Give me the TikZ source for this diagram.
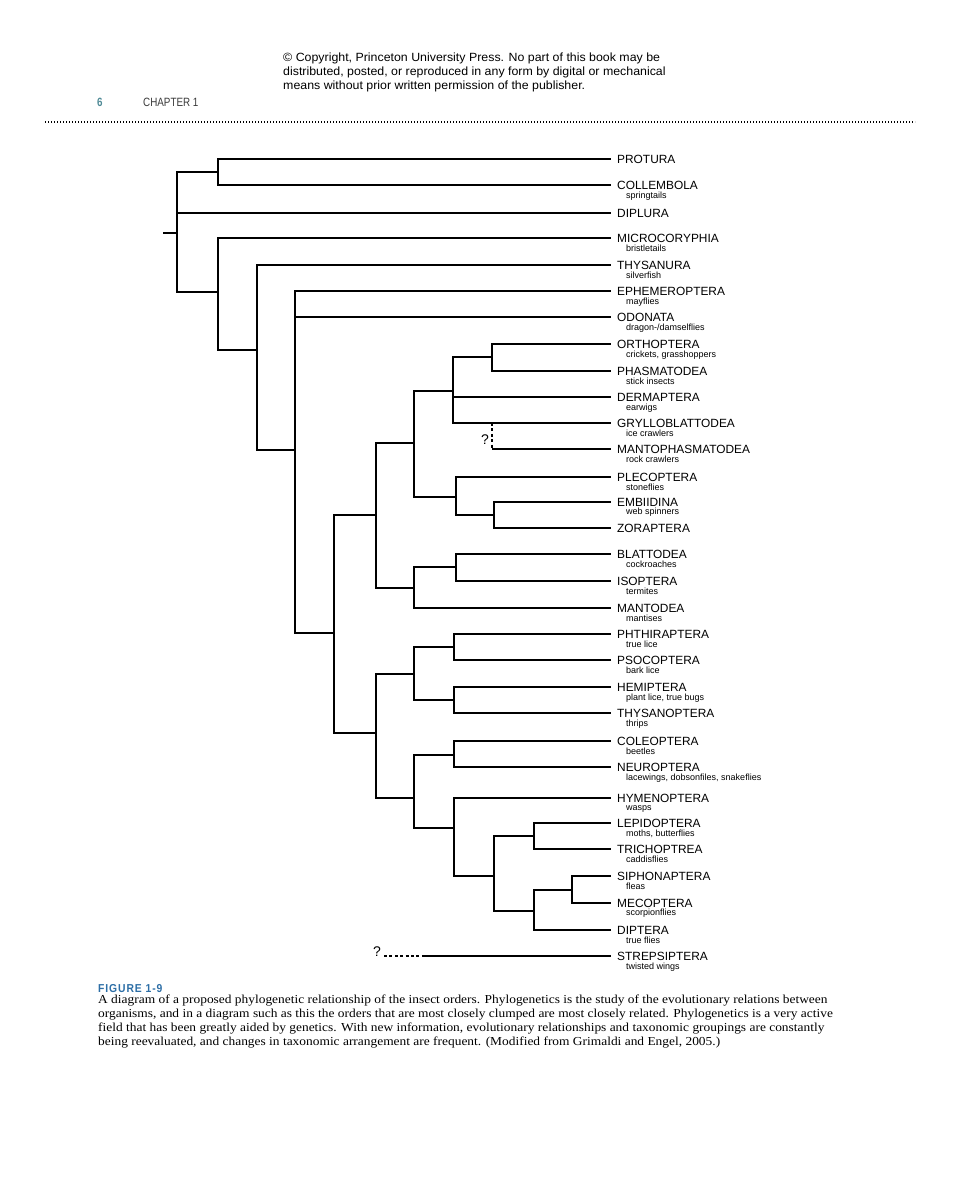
\documentclass[tikz,border=0pt]{standalone}
\usepackage{fontspec}
\setmainfont{Liberation Serif}
\setsansfont{Liberation Sans}
\newfontfamily\narrowsans[FakeStretch=0.82]{Liberation Sans}
\newfontfamily\spacedsans[FakeStretch=0.9,LetterSpace=8]{Liberation Sans}
\newfontfamily\widesans[FakeStretch=1.04]{Liberation Sans}
\newfontfamily\captionserif[FakeStretch=1.1]{Liberation Serif}
\usepackage{tikz}
\usetikzlibrary{positioning}
\usepackage{xcolor}
\definecolor{pageteal}{HTML}{4F8A96}
\definecolor{figblue}{HTML}{2C6EA6}
\definecolor{headgray}{HTML}{3A3A3A}

\begin{document}
\begin{tikzpicture}[x=1pt,y=-1pt,
  branch/.style={line width=1.8pt},
  unsure/.style={line width=1.4pt, dash pattern=on 3pt off 2.4pt},
  taxon/.style={anchor=west, inner xsep=6pt, inner ysep=0pt, text height=8.6pt, text depth=0pt,
    font=\sffamily\fontsize{11.9}{12}\selectfont},
  common/.style={anchor=base west, inner sep=0pt, font=\sffamily\fontsize{9}{9}\selectfont},
  query/.style={inner sep=0pt, font=\sffamily\fontsize{14}{14}\selectfont}]
\useasboundingbox (0,0) rectangle (960,1177);

\node[anchor=north west, align=left, inner sep=0pt, font=\widesans\fontsize{11.9}{14}\selectfont] (copyright) at (283,53)
  {\textcopyright{} Copyright, Princeton University Press. No part of this book may be\\
   distributed, posted, or reproduced in any form by digital or mechanical\\
   means without prior written permission of the publisher.};
\node[anchor=west, inner sep=0pt, text=pageteal, font=\narrowsans\bfseries\fontsize{12}{12}\selectfont] (pageno) at (97,102) {6};
\node[anchor=west, inner sep=0pt, text=headgray, font=\narrowsans\fontsize{12}{12}\selectfont] (chapter) at (143,102) {CHAPTER 1};
\draw[line width=1.3pt, dash pattern=on 1.3pt off 1.7pt] (45,122) -- (915,122);

\node[taxon] (protura) at (611,159) {PROTURA};
\node[taxon] (collembola) at (611,185) {COLLEMBOLA};
\node[taxon] (diplura) at (611,213) {DIPLURA};
\node[taxon] (microcoryphia) at (611,238) {MICROCORYPHIA};
\node[taxon] (thysanura) at (611,265) {THYSANURA};
\node[taxon] (ephemeroptera) at (611,291) {EPHEMEROPTERA};
\node[taxon] (odonata) at (611,317) {ODONATA};
\node[taxon] (orthoptera) at (611,344) {ORTHOPTERA};
\node[taxon] (phasmatodea) at (611,371) {PHASMATODEA};
\node[taxon] (dermaptera) at (611,397) {DERMAPTERA};
\node[taxon] (grylloblattodea) at (611,423) {GRYLLOBLATTODEA};
\node[taxon] (mantophasmatodea) at (611,449) {MANTOPHASMATODEA};
\node[taxon] (plecoptera) at (611,477) {PLECOPTERA};
\node[taxon] (embiidina) at (611,502) {EMBIIDINA};
\node[taxon] (zoraptera) at (611,528) {ZORAPTERA};
\node[taxon] (blattodea) at (611,554) {BLATTODEA};
\node[taxon] (isoptera) at (611,581) {ISOPTERA};
\node[taxon] (mantodea) at (611,608) {MANTODEA};
\node[taxon] (phthiraptera) at (611,634) {PHTHIRAPTERA};
\node[taxon] (psocoptera) at (611,660) {PSOCOPTERA};
\node[taxon] (hemiptera) at (611,687) {HEMIPTERA};
\node[taxon] (thysanoptera) at (611,713) {THYSANOPTERA};
\node[taxon] (coleoptera) at (611,741) {COLEOPTERA};
\node[taxon] (neuroptera) at (611,767) {NEUROPTERA};
\node[taxon] (hymenoptera) at (611,798) {HYMENOPTERA};
\node[taxon] (lepidoptera) at (611,823) {LEPIDOPTERA};
\node[taxon] (trichoptrea) at (611,849) {TRICHOPTREA};
\node[taxon] (siphonaptera) at (611,876) {SIPHONAPTERA};
\node[taxon] (mecoptera) at (611,903) {MECOPTERA};
\node[taxon] (diptera) at (611,930) {DIPTERA};
\node[taxon] (strepsiptera) at (611,956) {STREPSIPTERA};

\node[common] (collembola-c) at ([xshift=15pt,yshift=-13.5pt]collembola.west) {springtails};
\node[common] (microcoryphia-c) at ([xshift=15pt,yshift=-13.5pt]microcoryphia.west) {bristletails};
\node[common] (thysanura-c) at ([xshift=15pt,yshift=-13.5pt]thysanura.west) {silverfish};
\node[common] (ephemeroptera-c) at ([xshift=15pt,yshift=-13.5pt]ephemeroptera.west) {mayflies};
\node[common] (odonata-c) at ([xshift=15pt,yshift=-13.5pt]odonata.west) {dragon-/damselflies};
\node[common] (orthoptera-c) at ([xshift=15pt,yshift=-13.5pt]orthoptera.west) {crickets, grasshoppers};
\node[common] (phasmatodea-c) at ([xshift=15pt,yshift=-13.5pt]phasmatodea.west) {stick insects};
\node[common] (dermaptera-c) at ([xshift=15pt,yshift=-13.5pt]dermaptera.west) {earwigs};
\node[common] (grylloblattodea-c) at ([xshift=15pt,yshift=-13.5pt]grylloblattodea.west) {ice crawlers};
\node[common] (mantophasmatodea-c) at ([xshift=15pt,yshift=-13.5pt]mantophasmatodea.west) {rock crawlers};
\node[common] (plecoptera-c) at ([xshift=15pt,yshift=-13.5pt]plecoptera.west) {stoneflies};
\node[common] (embiidina-c) at ([xshift=15pt,yshift=-12.5pt]embiidina.west) {web spinners};
\node[common] (blattodea-c) at ([xshift=15pt,yshift=-13.5pt]blattodea.west) {cockroaches};
\node[common] (isoptera-c) at ([xshift=15pt,yshift=-13.5pt]isoptera.west) {termites};
\node[common] (mantodea-c) at ([xshift=15pt,yshift=-13.5pt]mantodea.west) {mantises};
\node[common] (phthiraptera-c) at ([xshift=15pt,yshift=-13.5pt]phthiraptera.west) {true lice};
\node[common] (psocoptera-c) at ([xshift=15pt,yshift=-13.5pt]psocoptera.west) {bark lice};
\node[common] (hemiptera-c) at ([xshift=15pt,yshift=-13.5pt]hemiptera.west) {plant lice, true bugs};
\node[common] (thysanoptera-c) at ([xshift=15pt,yshift=-13.5pt]thysanoptera.west) {thrips};
\node[common] (coleoptera-c) at ([xshift=15pt,yshift=-13.5pt]coleoptera.west) {beetles};
\node[common] (neuroptera-c) at ([xshift=15pt,yshift=-13.5pt]neuroptera.west) {lacewings, dobsonfiles, snakeflies};
\node[common] (hymenoptera-c) at ([xshift=15pt,yshift=-12.8pt]hymenoptera.west) {wasps};
\node[common] (lepidoptera-c) at ([xshift=15pt,yshift=-13.5pt]lepidoptera.west) {moths, butterflies};
\node[common] (trichoptrea-c) at ([xshift=15pt,yshift=-13.5pt]trichoptrea.west) {caddisflies};
\node[common] (siphonaptera-c) at ([xshift=15pt,yshift=-13.5pt]siphonaptera.west) {fleas};
\node[common] (mecoptera-c) at ([xshift=15pt,yshift=-12.5pt]mecoptera.west) {scorpionflies};
\node[common] (diptera-c) at ([xshift=15pt,yshift=-13.5pt]diptera.west) {true flies};
\node[common] (strepsiptera-c) at ([xshift=15pt,yshift=-13.5pt]strepsiptera.west) {twisted wings};

\coordinate (stub) at (163,233);
\coordinate (root) at (177,233);
\coordinate (ellipura) at (218,172);
\coordinate (insecta) at (218,292);
\coordinate (dicondylia) at (257,350);
\coordinate (pterygota) at (295,450);
\coordinate (neoptera) at (334,633);
\coordinate (poly) at (376,515);
\coordinate (poly-a) at (414,443);
\coordinate (poly-b) at (453,391);
\coordinate (poly-c) at (492,357);
\coordinate (poly-d) at (456,497);
\coordinate (poly-e) at (494,515);
\coordinate (dicty) at (414,588);
\coordinate (dicty-a) at (456,567);
\coordinate (eume) at (376,733);
\coordinate (para) at (414,674);
\coordinate (para-a) at (454,647);
\coordinate (para-b) at (454,700);
\coordinate (holo) at (414,798);
\coordinate (holo-a) at (454,755);
\coordinate (holo-b) at (454,828);
\coordinate (holo-c) at (494,876);
\coordinate (holo-d) at (534,836);
\coordinate (holo-e) at (534,911);
\coordinate (holo-f) at (572,890);
\coordinate (gryllo-q) at (492,423);
\coordinate (strep-q) at (384,956);
\coordinate (strep-s) at (422,956);

\draw[branch] (stub) -- (root);
\draw[branch] (root) |- (ellipura) (root) |- (diplura) (root) |- (insecta);
\draw[branch] (ellipura) |- (protura) (ellipura) |- (collembola);
\draw[branch] (insecta) |- (microcoryphia) (insecta) |- (dicondylia);
\draw[branch] (dicondylia) |- (thysanura) (dicondylia) |- (pterygota);
\draw[branch] (pterygota) |- (ephemeroptera) (pterygota) |- (odonata) (pterygota) |- (neoptera);
\draw[branch] (neoptera) |- (poly) (neoptera) |- (eume);
\draw[branch] (poly) |- (poly-a) (poly) |- (dicty);
\draw[branch] (poly-a) |- (poly-b) (poly-a) |- (poly-d);
\draw[branch] (poly-b) |- (poly-c) (poly-b) |- (dermaptera) (poly-b) |- (grylloblattodea);
\draw[branch] (poly-c) |- (orthoptera) (poly-c) |- (phasmatodea);
\draw[unsure] (gryllo-q) -- (gryllo-q |- mantophasmatodea);
\draw[branch] (gryllo-q |- mantophasmatodea) -- (mantophasmatodea);
\draw[branch] (poly-d) |- (plecoptera) (poly-d) |- (poly-e);
\draw[branch] (poly-e) |- (embiidina) (poly-e) |- (zoraptera);
\draw[branch] (dicty) |- (dicty-a) (dicty) |- (mantodea);
\draw[branch] (dicty-a) |- (blattodea) (dicty-a) |- (isoptera);
\draw[branch] (eume) |- (para) (eume) |- (holo);
\draw[branch] (para) |- (para-a) (para) |- (para-b);
\draw[branch] (para-a) |- (phthiraptera) (para-a) |- (psocoptera);
\draw[branch] (para-b) |- (hemiptera) (para-b) |- (thysanoptera);
\draw[branch] (holo) |- (holo-a) (holo) |- (holo-b);
\draw[branch] (holo-a) |- (coleoptera) (holo-a) |- (neuroptera);
\draw[branch] (holo-b) |- (hymenoptera) (holo-b) |- (holo-c);
\draw[branch] (holo-c) |- (holo-d) (holo-c) |- (holo-e);
\draw[branch] (holo-d) |- (lepidoptera) (holo-d) |- (trichoptrea);
\draw[branch] (holo-e) |- (holo-f) (holo-e) |- (diptera);
\draw[branch] (holo-f) |- (siphonaptera) (holo-f) |- (mecoptera);
\draw[unsure] (strep-q) -- (strep-s);
\draw[branch] (strep-s) -- (strepsiptera);

\node[query] (gryllo-mark) at (485,440) {?};
\node[query] (strep-mark) at (377,952) {?};

\node[anchor=west, inner sep=0pt, text=figblue, font=\spacedsans\bfseries\fontsize{11.5}{11.5}\selectfont] (figlabel) at (98,989) {FIGURE 1-9};
\node[anchor=north west, align=left, inner sep=0pt, font=\captionserif\fontsize{12.2}{14}\selectfont] (caption) at (98,995)
  {A diagram of a proposed phylogenetic relationship of the insect orders. Phylogenetics is the study of the evolutionary relations between\\
   organisms, and in a diagram such as this the orders that are most closely clumped are most closely related. Phylogenetics is a very active\\
   field that has been greatly aided by genetics. With new information, evolutionary relationships and taxonomic groupings are constantly\\
   being reevaluated, and changes in taxonomic arrangement are frequent. (Modified from Grimaldi and Engel, 2005.)};
\end{tikzpicture}
\end{document}
